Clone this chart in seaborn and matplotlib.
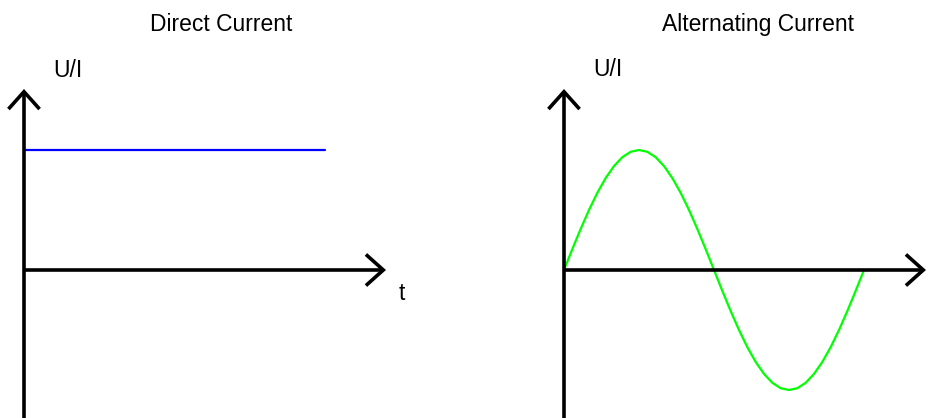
import matplotlib
matplotlib.use("Agg")
import matplotlib.pyplot as plt
import pandas as pd
import seaborn as sns

# ---------------- data ----------------
titles = ["Direct Current", "Alternating Current"]
y_label = "U/I"
t_label = "t"

dc_time = [0.0, 1.0]
dc_value = [1.0, 1.0]

ac_phase_deg = [0, 10, 20, 30, 40, 50, 60, 70, 80, 90, 100, 110, 120, 130, 140, 150, 160, 170, 180,
                190, 200, 210, 220, 230, 240, 250, 260, 270, 280, 290, 300, 310, 320, 330, 340, 350, 360]
ac_value = [0.000, 0.174, 0.342, 0.500, 0.643, 0.766, 0.866, 0.940, 0.985, 1.000,
            0.985, 0.940, 0.866, 0.766, 0.643, 0.500, 0.342, 0.174, 0.000,
            -0.174, -0.342, -0.500, -0.643, -0.766, -0.866, -0.940, -0.985, -1.000,
            -0.985, -0.940, -0.866, -0.766, -0.643, -0.500, -0.342, -0.174, 0.000]

dc_df = pd.DataFrame({"t": dc_time, "v": dc_value})
ac_df = pd.DataFrame({"t": ac_phase_deg, "v": ac_value})

# ---------------- style ----------------
sns.set_style("white")
plt.rcParams["font.family"] = ["Liberation Sans", "DejaVu Sans"]

W, H = 938, 418
fig = plt.figure(figsize=(W / 100, H / 100), dpi=100)
fig.patch.set_facecolor("white")

def px_axes(left, top, right, bottom):
    return fig.add_axes([left / W, 1 - bottom / H, (right - left) / W, (bottom - top) / H])

# left panel: axis origin at x=24px, y=270px ; 1 time unit = 301 px ; 1 value = 120 px
ax1 = px_axes(24, 89, 386, 418)
ax1.set_xlim(0, 362 / 301)
ax1.set_ylim(-(418 - 270) / 120, (270 - 89) / 120)

# right panel: origin at x=564px ; 360 deg = 300 px
ax2 = px_axes(564, 89, 926, 418)
ax2.set_xlim(0, 362 / 300 * 360)
ax2.set_ylim(-(418 - 270) / 120, (270 - 89) / 120)

sns.lineplot(data=dc_df, x="t", y="v", ax=ax1, color="#0000ff", lw=1.6, zorder=2)
sns.lineplot(data=ac_df, x="t", y="v", ax=ax2, color="#00ff00", lw=1.6, zorder=2)

arrow_style = "->,head_length=12.5,head_width=11.2"
for ax in (ax1, ax2):
    ax.set_axis_off()
    x0, x1 = ax.get_xlim()
    y0, y1 = ax.get_ylim()
    props = dict(arrowstyle=arrow_style, mutation_scale=1, lw=2.6, color="black",
                 shrinkA=0, shrinkB=0, capstyle="butt", joinstyle="miter")
    ax.annotate("", xy=(x0, y1), xytext=(x0, y0 - 0.1), xycoords="data",
                arrowprops=props, annotation_clip=False, zorder=3)
    ax.annotate("", xy=(x1, 0), xytext=(x0, 0), xycoords="data",
                arrowprops=props, annotation_clip=False, zorder=3)

fs = 16.5
def px_text(x, y, s):
    fig.text(x / W, 1 - y / H, s, ha="center", va="baseline", fontsize=fs, color="black")

px_text(221, 31, titles[0])
px_text(758, 31, titles[1])
px_text(68, 77, y_label)
px_text(608, 76, y_label)
px_text(402, 300, t_label)

fig.savefig("out.png", dpi=100, facecolor="white")
